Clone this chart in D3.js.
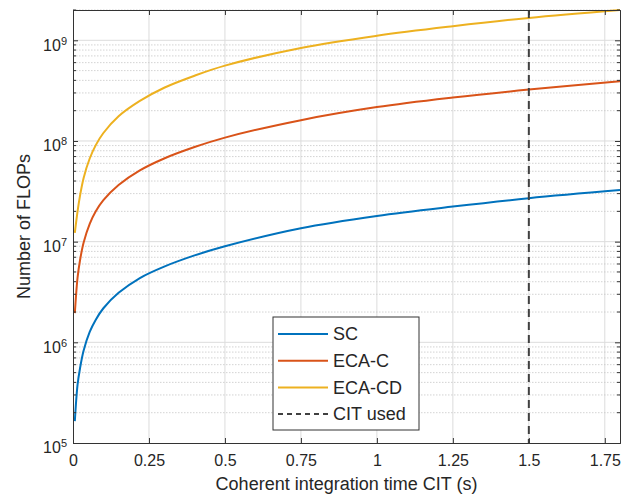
<!DOCTYPE html>
<html lang="en">
<head>
<meta charset="UTF-8">
<title>FLOPs vs CIT</title>
<script src="https://d3js.org/d3.v7.min.js"></script>
<style>
    body { margin: 0; background: #fff; }
    svg { display: block; font-family: "Liberation Sans", Arial, Helvetica, sans-serif; }
    .axis path, .axis line { stroke: #333; }
    .axis text { fill: #262626; font-size: 16px; }
</style>
</head>
<body>
<svg id="chart" width="630" height="498"></svg>
<script>
// values
const citValues  = [0.006, 0.015, 0.023, 0.035, 0.055, 0.075, 0.1, 0.15, 0.22, 0.3, 0.4, 0.5, 0.75, 1.0, 1.25, 1.5, 1.8];
const scFlops    = [1.65e5, 3.8e5, 5.5e5, 8.3e5, 1.27e6, 1.68e6, 2.18e6, 3.1e6, 4.35e6, 5.65e6, 7.3e6, 9.0e6, 1.36e7, 1.8e7, 2.23e7, 2.7e7, 3.25e7];
const ecaCFlops  = [1.95e6, 4.4e6, 6.5e6, 9.8e6, 1.5e7, 2.0e7, 2.58e7, 3.65e7, 5.1e7, 6.7e7, 8.7e7, 1.08e8, 1.61e8, 2.17e8, 2.7e8, 3.24e8, 3.92e8];
const ecaCDFlops = [1.22e7, 2.0e7, 2.85e7, 4.3e7, 6.7e7, 9.1e7, 1.2e8, 1.76e8, 2.5e8, 3.38e8, 4.45e8, 5.6e8, 8.4e8, 1.11e9, 1.38e9, 1.67e9, 2.0e9];
const seriesNames  = ["SC", "ECA-C", "ECA-CD"];
const seriesColors = ["#0072BD", "#D95319", "#EDB120"];
const citUsed = 1.5;
const xTicks = [0, 0.25, 0.5, 0.75, 1, 1.25, 1.5, 1.75];
const yTicks = [1e5, 1e6, 1e7, 1e8, 1e9];

const margin = { top: 10, right: 10, bottom: 55, left: 73 };
const width = 630, height = 498;
const innerW = width - margin.left - margin.right;
const innerH = height - margin.top - margin.bottom;

const svg = d3.select("#chart");
const g = svg.append("g").attr("transform", `translate(${margin.left},${margin.top})`);

const x = d3.scaleLinear().domain([0, 1.8]).range([0, innerW]);
const y = d3.scaleLog().domain([1e5, 2e9]).range([innerH, 0]);

// minor log ticks 2..9 x 10^k
const minorTicks = [];
yTicks.forEach(function (d) {
    for (let m = 2; m <= 9; m++) {
        if (d * m <= y.domain()[1]) minorTicks.push(d * m);
    }
});

// grid
g.append("g").selectAll("line.vgrid")
    .data(xTicks.slice(1))
    .enter().append("line")
    .attr("x1", d => x(d)).attr("x2", d => x(d))
    .attr("y1", 0).attr("y2", innerH)
    .attr("stroke", "#dcdcdc").attr("stroke-width", 1);

g.append("g").selectAll("line.minor")
    .data(minorTicks)
    .enter().append("line")
    .attr("x1", 0).attr("x2", innerW)
    .attr("y1", d => y(d)).attr("y2", d => y(d))
    .attr("stroke", "#c8c8c8").attr("stroke-width", 0.8)
    .attr("stroke-dasharray", "1.5,1.5");

g.append("g").selectAll("line.hgrid")
    .data(yTicks.slice(1))
    .enter().append("line")
    .attr("x1", 0).attr("x2", innerW)
    .attr("y1", d => y(d)).attr("y2", d => y(d))
    .attr("stroke", "#dcdcdc").attr("stroke-width", 1);

// curves
svg.append("clipPath").attr("id", "clip")
    .append("rect").attr("width", innerW).attr("height", innerH + 1).attr("y", -1);

const line = d3.line()
    .x(d => x(d[0]))
    .y(d => y(d[1]))
    .curve(d3.curveCatmullRom.alpha(0.5));

const allSeries = [scFlops, ecaCFlops, ecaCDFlops];
allSeries.forEach(function (vals, i) {
    g.append("path")
        .datum(citValues.map((c, j) => [c, vals[j]]))
        .attr("clip-path", "url(#clip)")
        .attr("fill", "none")
        .attr("stroke", seriesColors[i])
        .attr("stroke-width", 2)
        .attr("d", line);
});

// CIT used marker
g.append("line")
    .attr("x1", x(citUsed)).attr("x2", x(citUsed))
    .attr("y1", 0).attr("y2", innerH)
    .attr("stroke", "#404040").attr("stroke-width", 2)
    .attr("stroke-dasharray", "8,5");

// axes (ticks inward, box on)
g.append("g").attr("class", "axis")
    .attr("transform", `translate(0,${innerH})`)
    .call(d3.axisBottom(x).tickValues(xTicks).tickSize(-5).tickPadding(12)
        .tickFormat(d3.format("~g")));

g.append("g").attr("class", "axis")
    .call(d3.axisTop(x).tickValues(xTicks).tickSize(-5).tickFormat(""));

const yAxis = g.append("g").attr("class", "axis")
    .call(d3.axisLeft(y).tickValues(yTicks).tickSize(-5).tickPadding(6));
yAxis.selectAll(".tick text")
    .attr("dy", "0.62em")
    .each(function (d) {
        const t = d3.select(this);
        t.text("");
        t.append("tspan").text("10");
        t.append("tspan").attr("dy", "-0.55em").attr("font-size", "11px").text(Math.round(Math.log10(d)));
    });

g.append("g").attr("class", "axis")
    .attr("transform", `translate(${innerW},0)`)
    .call(d3.axisRight(y).tickValues(yTicks).tickSize(-5).tickFormat(""));

// minor ticks left and right
[0, innerW].forEach(function (xp) {
    g.append("g").selectAll("line")
        .data(minorTicks)
        .enter().append("line")
        .attr("x1", xp).attr("x2", xp === 0 ? 3 : xp - 3)
        .attr("y1", d => y(d)).attr("y2", d => y(d))
        .attr("stroke", "#333");
});

// axis labels
svg.append("text")
    .attr("x", margin.left + innerW / 2).attr("y", 490)
    .attr("text-anchor", "middle")
    .attr("font-size", "18px").attr("fill", "#262626")
    .text("Coherent integration time CIT (s)");

svg.append("text")
    .attr("transform", `translate(30,${margin.top + innerH / 2}) rotate(-90)`)
    .attr("text-anchor", "middle")
    .attr("font-size", "18px").attr("fill", "#262626")
    .text("Number of FLOPs");

// legend
const legendItems = seriesNames.map((n, i) => ({ name: n, color: seriesColors[i], dash: null }));
legendItems.push({ name: "CIT used", color: "#404040", dash: "5,4" });

const legend = svg.append("g").attr("transform", "translate(273,317)");
legend.append("rect")
    .attr("width", 146).attr("height", 113)
    .attr("fill", "#fff").attr("stroke", "#333").attr("stroke-width", 1);

const item = legend.selectAll("g.item")
    .data(legendItems)
    .enter().append("g")
    .attr("transform", (d, i) => `translate(0,${17 + i * 26.7})`);
item.append("line")
    .attr("x1", 5).attr("x2", 55)
    .attr("stroke", d => d.color).attr("stroke-width", 2)
    .attr("stroke-dasharray", d => d.dash);
item.append("text")
    .attr("x", 60).attr("dy", "0.35em")
    .attr("font-size", "18px").attr("fill", "#262626")
    .text(d => d.name);
</script>
</body>
</html>
